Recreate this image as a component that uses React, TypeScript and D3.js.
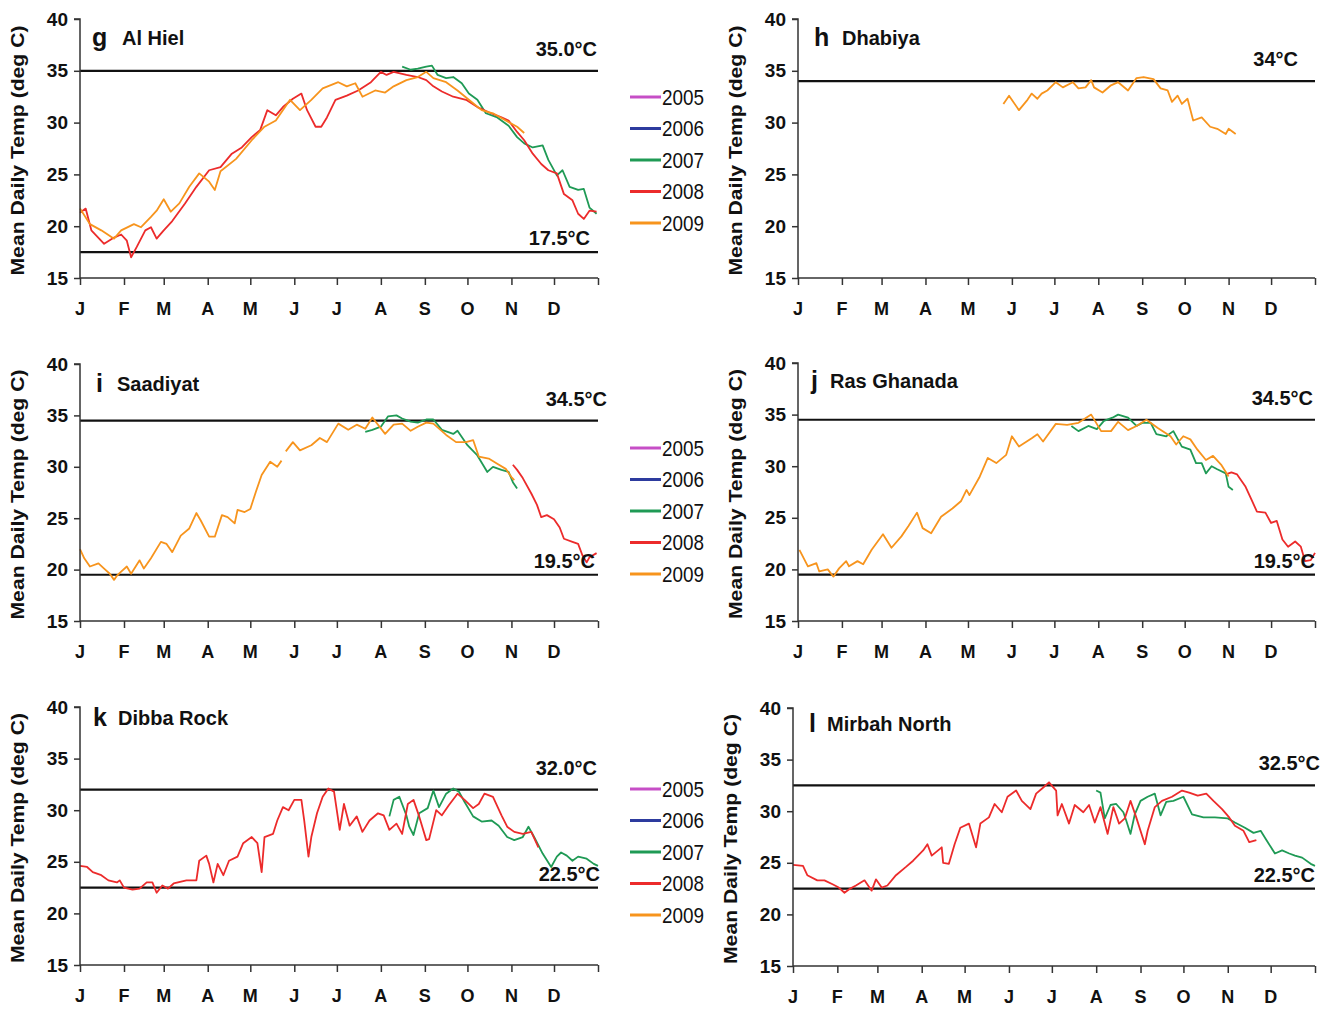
import { useEffect, useRef } from 'react';
import * as d3 from 'd3';

type Pt = [number, number | null];

const months = ['J', 'F', 'M', 'A', 'M', 'J', 'J', 'A', 'S', 'O', 'N', 'D'];
const monthStarts = [0, 31, 59, 90, 120, 151, 181, 212, 243, 273, 304, 334];
const yTicks = [15, 20, 25, 30, 35, 40];
const years = ['2005', '2006', '2007', '2008', '2009'];
const yearColors = ['#c64ec6', '#2d3b9e', '#1f9a55', '#ec2b2b', '#f7941d'];

// day of year, mean daily temp
const alHiel2007: Pt[] = [[227,35.4],[233,35.1],[238,35.2],[244,35.4],[248,35.5],[252,34.6],[258,34.3],[263,34.4],[269,33.8],[274,32.8],[280,32.2],[286,30.9],[294,30.5],[302,29.7],[308,28.6],[313,28.0],[319,27.6],[326,27.8],[330,26.4],[336,24.9],[340,25.4],[345,23.8],[351,23.5],[355,23.6],[359,21.8],[364,21.2]];
const alHiel2008: Pt[] = [[0,21.3],[4,21.7],[8,19.6],[17,18.3],[24,18.9],[29,19.2],[33,18.6],[36,17.0],[40,18.0],[46,19.6],[50,19.9],[54,18.8],[59,19.6],[65,20.5],[74,22.2],[82,23.8],[91,25.4],[99,25.7],[107,27.0],[114,27.6],[121,28.6],[127,29.3],[132,31.2],[138,30.7],[143,31.5],[150,32.3],[156,32.8],[160,31.2],[166,29.6],[170,29.6],[174,30.5],[180,32.2],[188,32.6],[196,33.1],[205,33.9],[212,34.9],[216,34.6],[221,34.9],[230,34.6],[238,34.4],[244,34.1],[249,33.5],[255,33.0],[263,32.5],[272,32.2],[280,31.5],[288,31.0],[297,30.5],[302,30.2],[308,29.1],[313,28.3],[319,27.0],[325,26.0],[330,25.4],[336,25.1],[341,23.1],[347,22.5],[351,21.2],[355,20.7],[359,21.5],[364,21.4]];
const alHiel2009: Pt[] = [[0,21.7],[7,20.2],[15,19.6],[24,18.8],[29,19.6],[38,20.2],[43,19.9],[50,20.9],[54,21.5],[59,22.6],[64,21.4],[70,22.2],[77,23.8],[84,25.1],[91,24.3],[95,23.5],[99,25.3],[110,26.5],[121,28.3],[130,29.6],[138,30.2],[148,32.2],[155,31.2],[163,32.2],[171,33.3],[182,33.9],[188,33.5],[194,33.8],[199,32.5],[208,33.1],[215,32.9],[221,33.5],[230,34.1],[238,34.4],[244,34.9],[249,34.3],[258,33.9],[266,33.1],[274,32.2],[283,31.2],[291,30.9],[300,30.2],[308,29.6],[313,29.0]];

const dhabiya2009: Pt[] = [[145,31.8],[149,32.6],[156,31.2],[162,32.2],[165,32.8],[169,32.3],[172,32.8],[176,33.1],[182,33.9],[187,33.4],[194,33.9],[198,33.3],[203,33.4],[207,34.1],[209,33.4],[215,32.9],[221,33.6],[226,33.9],[233,33.1],[239,34.3],[244,34.4],[251,34.2],[256,33.3],[261,33.1],[264,32.0],[268,32.6],[271,31.8],[275,32.3],[279,30.2],[285,30.5],[291,29.6],[296,29.4],[302,28.9],[304,29.4],[309,28.9]];

const saadiyat2007: Pt[] = [[201,33.4],[206,33.6],[212,33.9],[217,34.9],[223,35.0],[227,34.7],[233,34.4],[238,34.3],[244,34.6],[249,34.6],[255,33.6],[263,33.2],[266,33.5],[273,32.1],[280,31.1],[287,29.5],[291,30.0],[297,29.7],[302,29.5],[305,28.5],[308,27.9]];
const saadiyat2008: Pt[] = [[305,30.2],[308,29.7],[312,28.9],[318,27.4],[322,26.3],[325,25.1],[329,25.3],[334,24.9],[338,24.1],[341,23.0],[347,22.7],[351,22.5],[354,21.4],[357,20.7],[359,21.2],[364,21.6]];
const saadiyat2009: Pt[] = [[0,22.0],[3,21.1],[7,20.3],[13,20.6],[17,20.1],[21,19.6],[24,19.0],[26,19.4],[29,19.8],[33,20.3],[36,19.6],[42,20.9],[45,20.1],[50,21.1],[57,22.7],[61,22.5],[65,21.7],[71,23.3],[77,24.0],[82,25.5],[85,24.8],[91,23.2],[95,23.2],[100,25.3],[104,25.1],[109,24.5],[111,25.8],[116,25.6],[120,25.9],[124,27.6],[128,29.2],[134,30.5],[139,30.0],[142,30.6],[143,null],[145,31.5],[150,32.4],[155,31.6],[163,32.1],[169,32.8],[174,32.4],[182,34.2],[189,33.6],[195,34.1],[201,33.7],[206,34.8],[215,33.2],[221,34.1],[227,34.2],[233,33.5],[238,33.9],[244,34.3],[249,34.2],[258,33.1],[265,32.4],[272,32.4],[277,32.6],[281,31.0],[288,30.8],[294,30.3],[300,29.8],[304,29.0],[306,28.7]];

const rasGhanada2007: Pt[] = [[193,33.9],[198,33.4],[205,33.9],[211,33.6],[216,34.4],[222,34.7],[226,35.0],[233,34.7],[239,33.9],[243,34.2],[249,34.2],[253,33.1],[260,32.9],[265,33.4],[271,31.9],[277,31.6],[281,30.3],[285,30.3],[288,29.3],[292,30.0],[296,29.7],[302,29.3],[304,28.0],[307,27.7]];
const rasGhanada2008: Pt[] = [[302,29.2],[306,29.4],[310,29.2],[316,28.0],[320,26.8],[324,25.6],[330,25.5],[334,24.5],[338,24.7],[342,22.9],[346,22.2],[351,22.7],[355,22.2],[358,20.8],[362,20.9],[365,21.6]];
const rasGhanada2009: Pt[] = [[1,21.9],[4,21.1],[7,20.3],[13,20.6],[15,19.8],[21,20.0],[25,19.3],[29,20.1],[34,20.8],[36,20.3],[42,20.8],[46,20.5],[52,21.9],[60,23.4],[66,22.1],[73,23.2],[78,24.2],[84,25.5],[88,24.0],[94,23.5],[101,25.1],[109,25.9],[115,26.6],[119,27.7],[121,27.2],[128,28.9],[134,30.8],[140,30.3],[147,31.1],[151,32.9],[156,31.9],[165,32.7],[169,33.1],[173,32.4],[182,34.1],[190,34.0],[198,34.2],[207,35.0],[214,33.4],[221,33.4],[226,34.3],[233,33.5],[239,33.9],[246,34.5],[254,33.7],[263,32.9],[267,32.1],[272,32.9],[277,32.6],[282,31.6],[288,30.6],[293,31.0],[299,30.1],[304,29.0]];

const dibba2007: Pt[] = [[218,29.4],[221,31.0],[225,31.3],[230,29.5],[232,28.4],[235,27.6],[239,29.7],[245,30.2],[249,31.9],[253,30.3],[258,31.6],[263,32.1],[267,31.8],[271,30.8],[277,29.4],[283,28.9],[290,29.0],[295,28.5],[301,27.4],[306,27.1],[312,27.4],[316,28.4],[320,27.4],[326,25.8],[332,24.5],[336,25.5],[339,25.9],[343,25.6],[347,25.1],[351,25.5],[357,25.3],[362,24.8],[365,24.6]];
const dibba2008: Pt[] = [[0,24.6],[5,24.5],[9,24.0],[15,23.7],[20,23.2],[26,23.0],[28,23.2],[31,22.5],[37,22.3],[42,22.4],[47,23.0],[51,23.0],[54,22.0],[58,22.7],[62,22.4],[66,22.9],[75,23.2],[82,23.2],[84,25.1],[89,25.6],[91,24.8],[94,23.0],[97,24.8],[101,23.7],[105,25.1],[111,25.5],[115,26.8],[121,27.4],[125,26.8],[128,24.0],[130,27.4],[136,27.7],[139,29.0],[143,30.3],[147,30.0],[151,31.0],[156,31.0],[158,29.0],[161,25.5],[163,27.4],[167,29.7],[171,31.3],[175,32.1],[179,31.8],[183,28.1],[186,30.6],[190,28.5],[195,29.4],[199,27.9],[204,29.0],[210,29.7],[214,29.5],[218,28.1],[223,28.7],[227,27.7],[231,30.6],[235,31.0],[239,29.4],[244,27.1],[246,27.2],[251,30.0],[255,29.5],[260,30.5],[266,31.6],[271,31.0],[277,30.2],[281,30.6],[285,31.6],[291,31.3],[297,29.5],[301,28.4],[306,27.9],[312,27.7],[318,27.9],[323,26.4]];

const mirbah2007: Pt[] = [[212,32.0],[215,31.8],[218,29.3],[222,30.6],[226,30.7],[231,29.9],[233,29.1],[236,27.8],[239,29.7],[243,31.0],[248,31.4],[253,31.7],[257,29.6],[261,30.9],[266,31.0],[273,31.4],[279,29.7],[287,29.4],[295,29.4],[304,29.3],[309,28.9],[316,28.4],[322,27.9],[327,28.1],[331,27.2],[337,25.9],[342,26.2],[347,25.9],[351,25.7],[356,25.5],[362,24.9],[365,24.7]];
const mirbah2008: Pt[] = [[0,24.8],[7,24.7],[10,23.8],[17,23.3],[22,23.3],[28,22.9],[32,22.6],[36,22.1],[40,22.5],[44,22.8],[50,23.3],[55,22.3],[58,23.4],[62,22.6],[66,22.8],[72,23.8],[79,24.6],[84,25.2],[91,26.2],[94,26.8],[97,25.7],[104,26.5],[105,25.0],[109,24.9],[113,26.8],[117,28.4],[123,28.8],[128,26.5],[131,28.8],[137,29.4],[141,30.7],[146,29.9],[150,31.4],[156,32.0],[160,31.0],[166,30.2],[170,31.7],[175,32.3],[179,32.8],[184,32.0],[185,29.6],[188,30.7],[193,28.8],[197,30.6],[203,29.9],[207,30.6],[211,28.9],[215,30.4],[220,27.8],[224,30.4],[228,28.8],[232,29.3],[236,31.0],[240,29.4],[246,26.8],[248,28.1],[253,30.4],[258,31.0],[265,31.4],[272,32.0],[277,31.8],[283,31.5],[289,31.7],[294,31.0],[300,30.2],[305,29.4],[309,28.6],[315,28.1],[319,27.0],[324,27.2]];

type Panel = {
  letter: string; name: string; hi: number; lo: number | null;
  hiLabel: string; loLabel: string;
  series: [number, Pt[]][];
  x0: number; x1: number; yTop: number; yBot: number;
  labelDx: [number, number];
  title: [number, number, number]; // letter dx, name dx, baseline dy
};

const panels: Panel[] = [
  { letter: 'g', name: 'Al Hiel', hi: 35.0, lo: 17.5, hiLabel: '35.0°C', loLabel: '17.5°C',
    series: [[2, alHiel2007], [3, alHiel2008], [4, alHiel2009]],
    x0: 80, x1: 598, yTop: 19, yBot: 278, labelDx: [-1, -8], title: [12, 42, 26] },
  { letter: 'h', name: 'Dhabiya', hi: 34, lo: null, hiLabel: '34°C', loLabel: '',
    series: [[4, dhabiya2009]],
    x0: 798, x1: 1315, yTop: 19, yBot: 278, labelDx: [-17, 0], title: [16, 44, 26] },
  { letter: 'i', name: 'Saadiyat', hi: 34.5, lo: 19.5, hiLabel: '34.5°C', loLabel: '19.5°C',
    series: [[2, saadiyat2007], [3, saadiyat2008], [4, saadiyat2009]],
    x0: 80, x1: 598, yTop: 364, yBot: 621, labelDx: [9, -3], title: [16, 37, 27] },
  { letter: 'j', name: 'Ras Ghanada', hi: 34.5, lo: 19.5, hiLabel: '34.5°C', loLabel: '19.5°C',
    series: [[2, rasGhanada2007], [3, rasGhanada2008], [4, rasGhanada2009]],
    x0: 798, x1: 1315, yTop: 363, yBot: 621, labelDx: [-2, 0], title: [13, 32, 25] },
  { letter: 'k', name: 'Dibba Rock', hi: 32.0, lo: 22.5, hiLabel: '32.0°C', loLabel: '22.5°C',
    series: [[2, dibba2007], [3, dibba2008]],
    x0: 80, x1: 598, yTop: 707, yBot: 965, labelDx: [-1, 2], title: [13, 38, 18] },
  { letter: 'l', name: 'Mirbah North', hi: 32.5, lo: 22.5, hiLabel: '32.5°C', loLabel: '22.5°C',
    series: [[2, mirbah2007], [3, mirbah2008]],
    x0: 793, x1: 1315, yTop: 708, yBot: 966, labelDx: [5, 0], title: [16, 34, 23] },
];

const legendTops = [97, 448, 789];

const FONT = '"Liberation Sans", Arial, Helvetica, sans-serif';

export default function App() {
  const ref = useRef<SVGSVGElement>(null);

  useEffect(() => {
    if (!ref.current) return;
    const svg = d3.select(ref.current);
    svg.selectAll('*').remove();
    svg.append('rect').attr('width', 1335).attr('height', 1009).attr('fill', '#fff');

    panels.forEach((p) => {
      const x = d3.scaleLinear().domain([0, 365]).range([p.x0, p.x1]);
      const y = d3.scaleLinear().domain([15, 40]).range([p.yBot, p.yTop]);
      const g = svg.append('g');

      // threshold lines
      [p.hi, p.lo].forEach((v) => {
        if (v == null) return;
        g.append('line').attr('x1', p.x0).attr('x2', p.x1)
          .attr('y1', y(v)).attr('y2', y(v))
          .attr('stroke', '#111').attr('stroke-width', 2.2);
      });

      // series
      const line = d3.line<Pt>()
        .defined((d) => d[1] != null)
        .x((d) => x(d[0]))
        .y((d) => y(d[1] as number));
      p.series.forEach(([yi, data]) => {
        g.append('path').datum(data).attr('d', line)
          .attr('fill', 'none').attr('stroke', yearColors[yi])
          .attr('stroke-width', 1.8).attr('stroke-linejoin', 'round');
      });

      // y axis
      const ya = g.append('g').attr('transform', `translate(${p.x0},0)`)
        .call(d3.axisLeft(y).tickValues(yTicks).tickSize(6).tickPadding(6).tickFormat(d3.format('d')));
      ya.select('.domain').attr('stroke', '#333').attr('stroke-width', 1.5).attr('d', `M-6,${p.yTop}H0V${p.yBot}`);
      ya.selectAll('line').attr('stroke', '#333').attr('stroke-width', 1.5);
      ya.selectAll('text').attr('font-family', FONT).attr('font-size', 19)
        .attr('font-weight', 'bold').attr('fill', '#111');

      // x axis
      const xa = g.append('g').attr('transform', `translate(0,${p.yBot})`)
        .call(d3.axisBottom(x).tickValues([...monthStarts, 365]).tickSize(7).tickFormat(() => ''));
      xa.select('.domain').attr('stroke', '#333').attr('stroke-width', 1.5).attr('d', `M${p.x0},0H${p.x1}`);
      xa.selectAll('line').attr('stroke', '#333').attr('stroke-width', 1.5);
      months.forEach((m, i) => {
        g.append('text').attr('x', x(monthStarts[i])).attr('y', p.yBot + 31)
          .attr('text-anchor', 'middle').attr('dominant-baseline', 'central')
          .attr('font-family', FONT).attr('font-size', 18).attr('font-weight', 'bold')
          .attr('fill', '#111').text(m);
      });

      // y label
      g.append('text')
        .attr('transform', `translate(${p.x0 - 56},${(p.yTop + p.yBot) / 2 + 2}) rotate(-90)`)
        .attr('text-anchor', 'middle').attr('font-family', FONT).attr('font-size', 18)
        .attr('font-weight', 'bold').attr('fill', '#111')
        .attr('textLength', 250).attr('lengthAdjust', 'spacingAndGlyphs')
        .text('Mean Daily Temp (deg C)');

      // panel title
      g.append('text').attr('x', p.x0 + p.title[0]).attr('y', p.yTop + p.title[2] + 1)
        .attr('font-family', FONT).attr('font-size', 25).attr('font-weight', 'bold')
        .attr('fill', '#111').text(p.letter);
      g.append('text').attr('x', p.x0 + p.title[1]).attr('y', p.yTop + p.title[2])
        .attr('font-family', FONT).attr('font-size', 20).attr('font-weight', 'bold')
        .attr('fill', '#111').text(p.name);

      // threshold labels
      g.append('text').attr('x', p.x1 + p.labelDx[0]).attr('y', y(p.hi) - 15)
        .attr('text-anchor', 'end').attr('font-family', FONT).attr('font-size', 20)
        .attr('font-weight', 'bold').attr('fill', '#111').text(p.hiLabel);
      if (p.lo != null) {
        g.append('text').attr('x', p.x1 + p.labelDx[1]).attr('y', y(p.lo) - 7)
          .attr('text-anchor', 'end').attr('font-family', FONT).attr('font-size', 20)
          .attr('font-weight', 'bold').attr('fill', '#111').text(p.loLabel);
      }
    });

    // legends
    legendTops.forEach((top) => {
      const lg = svg.append('g');
      const ly = d3.scalePoint<string>().domain(years).range([top, top + 126]);
      years.forEach((yr, i) => {
        lg.append('line').attr('x1', 630).attr('x2', 661)
          .attr('y1', ly(yr)!).attr('y2', ly(yr)!)
          .attr('stroke', yearColors[i]).attr('stroke-width', 3);
        lg.append('text').attr('x', 662).attr('y', ly(yr)!)
          .attr('dominant-baseline', 'central').attr('font-family', FONT)
          .attr('font-size', 22).attr('fill', '#111')
          .attr('textLength', 42).attr('lengthAdjust', 'spacingAndGlyphs')
          .text(yr);
      });
    });
  }, []);

  return (
    <div style={{ position: 'absolute', left: 0, top: 0 }}>
      <svg ref={ref} width={1335} height={1009} style={{ display: 'block' }} />
    </div>
  );
}
